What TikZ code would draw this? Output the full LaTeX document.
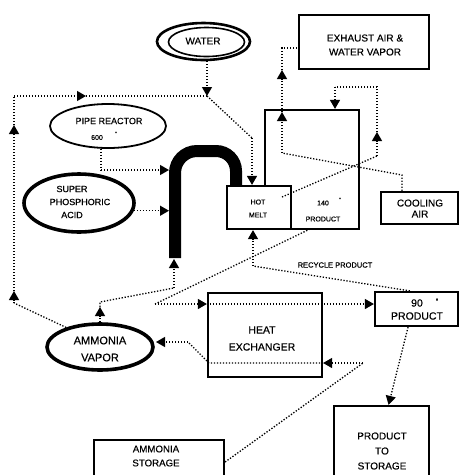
\documentclass[tikz,border=0pt]{standalone}
\usepackage{fontspec}
\setmainfont{Liberation Sans}[FakeBold=0.35]
\usetikzlibrary{arrows.meta,shapes.geometric}
\newcommand{\fsz}[2]{\fontsize{#1}{#2}\selectfont}
\begin{document}
\begin{tikzpicture}[x=1pt,y=-1pt,
  box/.style={draw,line width=2.2pt,fill=white,rectangle,inner sep=0pt},
  oval/.style={draw,ellipse,fill=white,inner sep=0pt},
  flow/.style={line width=1.3pt,dash pattern=on 1.3pt off 1.7pt},
  tip/.style={-{Triangle[length=9pt,width=10pt]}},
  lab/.style={inner sep=0pt,align=center},
]
\useasboundingbox (0,0) rectangle (475,475);
\clip (0,0) rectangle (475,475);

% ---------- boxes ----------
\node[box,minimum width=94pt,minimum height=119pt] (dryer) at (312,169.5) {};
\node[box,minimum width=64pt,minimum height=43pt] (hotmelt) at (259,207.5) {};
\node[box,minimum width=130pt,minimum height=54pt] (exhaust) at (364,42) {};
\node[box,minimum width=77pt,minimum height=32pt] (cooling) at (419.5,208) {};
\node[box,minimum width=114pt,minimum height=84pt] (hx) at (265,335) {};
\node[box,minimum width=83pt,minimum height=34pt] (prod90) at (416.5,309) {};
\node[box,minimum width=95pt,minimum height=78pt] (storage) at (381.5,445) {};
\node[box,minimum width=130pt,minimum height=44pt] (astorage) at (159,462) {};

% ---------- ovals ----------
\node[oval,line width=2.6pt,minimum width=93pt,minimum height=37pt] (water) at (203.5,41.5) {};
\draw[line width=1.6pt] (206.5,42) ellipse [x radius=38pt, y radius=14.5pt];
\node[oval,line width=1.8pt,minimum width=116pt,minimum height=44pt] (pipe) at (108,126) {};
\node[oval,line width=3.6pt,minimum width=110pt,minimum height=58pt] (spa) at (79,203) {};
\node[oval,line width=3.6pt,minimum width=106pt,minimum height=46pt] (av) at (100,347) {};

% ---------- pipe reactor (thick U) ----------
\draw[line width=12pt,line cap=butt] (175,258) -- (175,173)
   to[out=90,in=180] (197,151) -- (216,151) to[out=0,in=90] (236,171) -- (236,186);

% ---------- labels ----------
\node[lab,font=\fsz{10}{12}] (tw) at (203,41) {WATER};
\node[lab,font=\fsz{9}{11}] (tp) at (109,121) {PIPE REACTOR};
\node[lab,font=\fsz{7}{9}] (tp2) at (97,137.5) {600};
\node[lab,font=\fsz{5}{6}] (tp3) at (116,133.5) {°};
\node[lab,font=\fsz{9}{11}] (ts1) at (72,189) {SUPER};
\node[lab,font=\fsz{9}{11}] (ts2) at (80,202) {PHOSPHORIC};
\node[lab,font=\fsz{9}{11}] (ts3) at (72,215) {ACID};
\node[lab,font=\fsz{7}{13}] (th) at (258,208.5) {HOT\\MELT};
\node[lab,font=\fsz{7}{9}] (td1) at (323,203) {140};
\node[lab,font=\fsz{5}{6}] (td2) at (340,199.5) {°};
\node[lab,font=\fsz{7}{9}] (td3) at (323,219) {PRODUCT};
\node[lab,font=\fsz{10}{14}] (te) at (365,45) {EXHAUST AIR \&\\WATER VAPOR};
\node[lab,font=\fsz{10}{11}] (tc) at (420,208.5) {COOLING\\AIR};
\node[lab,font=\fsz{7.5}{9}] (tr) at (335,265) {RECYCLE PRODUCT};
\node[lab,font=\fsz{10.5}{12}] (t90) at (417,303) {90};
\node[lab,font=\fsz{7}{8}] (t90d) at (437,301) {°};
\node[lab,font=\fsz{10.5}{12}] (t90p) at (417,316) {PRODUCT};
\node[lab,font=\fsz{10.5}{17}] (thx) at (262,338.5) {HEAT\\EXCHANGER};
\node[lab,font=\fsz{11}{17}] (tav) at (100,349) {AMMONIA\\VAPOR};
\node[lab,font=\fsz{10}{15}] (tst) at (382,451) {PRODUCT\\TO\\STORAGE};
\node[lab,font=\fsz{9.7}{14}] (tas) at (156,456) {AMMONIA\\STORAGE};

% ---------- coordinates ----------
\coordinate (j1) at (207,96);
\coordinate (w1) at (207,61);
\coordinate (l1) at (14,303);
\coordinate (tb1) at (14,291);
\coordinate (tb2) at (14,125);
\coordinate (l2) at (14,96);
\coordinate (tb3) at (86,96);
\coordinate (c3) at (252,138);
\coordinate (p1) at (101,170);
\coordinate (tp1) at (169,170);
\coordinate (tsa) at (169,209);
\coordinate (tf1) at (100,307);
\coordinate (f1) at (100,302);
\coordinate (f2) at (174,288);
\coordinate (tf2) at (174,259);
\coordinate (g0) at (310,229);
\coordinate (g1) at (155,304);
\coordinate (h1) at (363,363);
\coordinate (h2) at (188,342);
\coordinate (th2) at (156,342);
\coordinate (r1) at (253,266);
\coordinate (k0) at (282,197);
\coordinate (k1) at (377,156);
\coordinate (tk1) at (377,132);
\coordinate (k2) at (377,87);
\coordinate (k3) at (335,87);
\coordinate (e1) at (402,175);
\coordinate (e2) at (282,153);
\coordinate (tl1) at (282,112);
\coordinate (tl2) at (282,70);
\coordinate (e3) at (282,48);

% ---------- connectors ----------
% water down
\draw[flow,tip] (w1) -- (j1);
% ammonia vapor loop up the left side
\draw[flow] (av.150) -- (l1);
\draw[flow,tip] (l1) -- (tb1);
\draw[flow,tip] (tb1) -- (tb2);
\draw[flow] (tb2) -- (l2);
\draw[flow,tip] (l2) -- (tb3);
\draw[flow] (tb3) -- (j1);
\draw[flow] (j1) -- (c3);
\draw[flow,tip] (c3) -- (hotmelt.north -| c3);
% pipe reactor feed
\draw[flow] (pipe.south -| p1) -- (p1);
\draw[flow,tip] (p1) -- (tp1);
% super phosphoric acid feed
\draw[flow,tip] (spa.-8) -- (spa.-8 -| tsa);
% ammonia vapor to pipe
\draw[flow,tip] (av.north) -- (tf1);
\draw[flow] (tf1) -- (f1) -- (f2);
\draw[flow,tip] (f2) -- (tf2);
% product to heat exchanger and to 90 product
\draw[flow] (g0) -- (g1);
\draw[flow,tip] (g1) -- (hx.west |- g1);
\draw[flow,tip] (hx.west |- g1) -- (prod90.west |- g1);
% ammonia storage through heat exchanger to ammonia vapor
\draw[flow] (astorage.east) -- (h1);
\draw[flow,tip] (h1) -- (hx.east |- h1);
\draw[flow] (hx.east |- h1) -- ([xshift=2pt]hx.west |- h1) -- (h2);
\draw[flow,tip] (h2) -- (th2);
% recycle product
\draw[flow] (prod90.110) -- (r1);
\draw[flow,tip] (r1) -- (hotmelt.south -| r1);
% product to storage
\draw[flow,tip] (prod90.-115) -- (storage.80);
% hot melt air loop
\draw[flow] (k0) -- (k1);
\draw[flow,tip] (k1) -- (tk1);
\draw[flow] (tk1) -- (k2) -- (k3);
\draw[flow,tip] (k3) -- (dryer.north -| k3);
% cooling air to exhaust
\draw[flow] (cooling.north -| e1) -- (e1) -- (e2);
\draw[flow,tip] (e2) -- (tl1);
\draw[flow,tip] (tl1) -- (tl2);
\draw[flow] (tl2) -- (e3) -- (exhaust.west |- e3);
\end{tikzpicture}
\end{document}
